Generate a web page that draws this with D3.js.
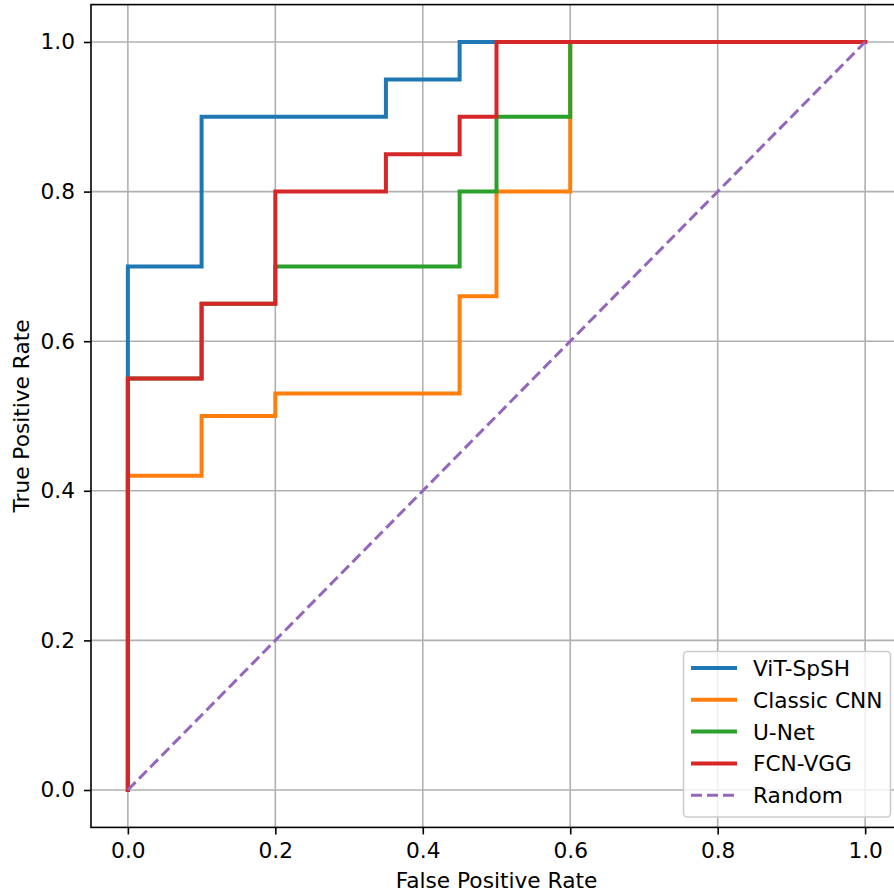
<!DOCTYPE html>
<html><head><meta charset="utf-8">
<script src="https://cdn.jsdelivr.net/npm/d3@7"></script>
<style>body{margin:0;background:#fff;} svg{display:block;}</style>
</head><body>
<svg id="c" width="894" height="896"></svg>
<script>
const seriesNames = ["ViT-SpSH", "Classic CNN", "U-Net", "FCN-VGG"];
const seriesColors = ["#1f77b4", "#ff7f0e", "#2ca02c", "#d62728"];
const vitFpr = [0, 0, 0.1, 0.1, 0.35, 0.35, 0.45, 0.45, 1];
const vitTpr = [0, 0.7, 0.7, 0.9, 0.9, 0.95, 0.95, 1.0, 1.0];
const cnnFpr = [0, 0, 0.1, 0.1, 0.2, 0.2, 0.45, 0.45, 0.5, 0.5, 0.6, 0.6, 1];
const cnnTpr = [0, 0.42, 0.42, 0.5, 0.5, 0.53, 0.53, 0.66, 0.66, 0.8, 0.8, 1.0, 1.0];
const unetFpr = [0, 0, 0.1, 0.1, 0.2, 0.2, 0.45, 0.45, 0.5, 0.5, 0.6, 0.6, 1];
const unetTpr = [0, 0.55, 0.55, 0.65, 0.65, 0.7, 0.7, 0.8, 0.8, 0.9, 0.9, 1.0, 1.0];
const fcnFpr = [0, 0, 0.1, 0.1, 0.2, 0.2, 0.35, 0.35, 0.45, 0.45, 0.5, 0.5, 1];
const fcnTpr = [0, 0.55, 0.55, 0.65, 0.65, 0.8, 0.8, 0.85, 0.85, 0.9, 0.9, 1.0, 1.0];
const randomFpr = [0, 1];
const randomTpr = [0, 1];
const tickValues = [0, 0.2, 0.4, 0.6, 0.8, 1.0];

const svg = d3.select("#c");
const L = 91, R = 902, T = 4.6, B = 827.4;
const x = d3.scaleLinear().domain([-0.05, 1.05]).range([L, R]);
const y = d3.scaleLinear().domain([-0.05, 1.05]).range([B, T]);
const font = "DejaVu Sans, sans-serif";
const fs = 21.7;

// grid
const g = svg.append("g");
g.selectAll("line.gx").data(tickValues).enter().append("line")
  .attr("x1", d => x(d)).attr("x2", d => x(d)).attr("y1", T).attr("y2", B)
  .attr("stroke", "#b0b0b0").attr("stroke-width", 1.6);
g.selectAll("line.gy").data(tickValues).enter().append("line")
  .attr("y1", d => y(d)).attr("y2", d => y(d)).attr("x1", L).attr("x2", R)
  .attr("stroke", "#b0b0b0").attr("stroke-width", 1.6);

// series
const data = [
  [vitFpr, vitTpr], [cnnFpr, cnnTpr], [unetFpr, unetTpr], [fcnFpr, fcnTpr]
];
const line = d3.line().x(d => x(d[0])).y(d => y(d[1]));
data.forEach((s, i) => {
  const pts = s[0].map((v, k) => [v, s[1][k]]);
  svg.append("path").datum(pts).attr("d", line).attr("fill", "none")
    .attr("stroke", seriesColors[i]).attr("stroke-width", 4)
    .attr("stroke-linejoin", "miter").attr("stroke-linecap", "square");
});
svg.append("path").datum(randomFpr.map((v, k) => [v, randomTpr[k]])).attr("d", line)
  .attr("fill", "none").attr("stroke", "#9467bd").attr("stroke-width", 3)
  .attr("stroke-dasharray", "11,5");

// axes
const xAxis = svg.append("g").attr("transform", `translate(0,${B})`)
  .call(d3.axisBottom(x).tickValues(tickValues).tickFormat(d3.format(".1f")).tickSize(7).tickPadding(8.5));
const yAxis = svg.append("g").attr("transform", `translate(${L},0)`)
  .call(d3.axisLeft(y).tickValues(tickValues).tickFormat(d3.format(".1f")).tickSize(7).tickPadding(9));
[xAxis, yAxis].forEach(a => {
  a.selectAll("text").attr("font-family", font).attr("font-size", fs).attr("fill", "#000");
  a.selectAll("line").attr("stroke", "#000").attr("stroke-width", 1.6);
  a.select(".domain").remove();
});
// spines
svg.append("rect").attr("x", L).attr("y", T).attr("width", R - L).attr("height", B - T)
  .attr("fill", "none").attr("stroke", "#000").attr("stroke-width", 1.6);

// labels
svg.append("text").attr("x", (L + R) / 2).attr("y", 888).attr("text-anchor", "middle")
  .attr("font-family", font).attr("font-size", fs).text("False Positive Rate");
svg.append("text").attr("transform", `translate(29,${(T + B) / 2}) rotate(-90)`)
  .attr("text-anchor", "middle").attr("font-family", font).attr("font-size", fs)
  .text("True Positive Rate");

// legend
const legNames = seriesNames.concat(["Random"]);
const legColors = seriesColors.concat(["#9467bd"]);
const lg = svg.append("g");
lg.append("rect").attr("x", 683.5).attr("y", 651.5).attr("width", 207).attr("height", 165.5)
  .attr("rx", 4).attr("fill", "#fff").attr("fill-opacity", 0.8)
  .attr("stroke", "#cccccc").attr("stroke-width", 1.6);
legNames.forEach((n, i) => {
  const yy = 668 + i * 31.8;
  lg.append("line").attr("x1", 691).attr("x2", 737).attr("y1", yy).attr("y2", yy)
    .attr("stroke", legColors[i]).attr("stroke-width", i === 4 ? 3 : 4)
    .attr("stroke-dasharray", i === 4 ? "11,5" : null);
  lg.append("text").attr("x", 753).attr("y", yy + 8).attr("font-family", font)
    .attr("font-size", fs).text(n);
});
</script>
</body></html>
